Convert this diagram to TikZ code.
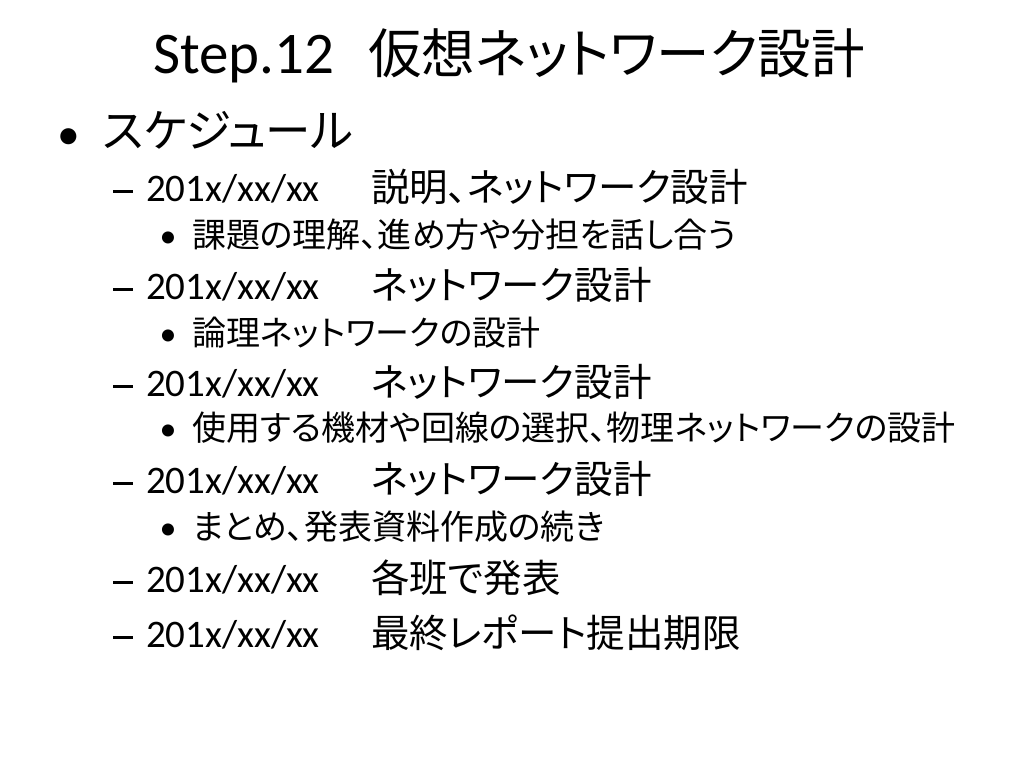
\documentclass[tikz,border=0pt]{standalone}
\usepackage{fontspec}
\setmainfont{Carlito}
\newfontfamily\jp[RawFeature=+palt]{Noto Sans CJK JP}
\begin{document}
\begin{tikzpicture}[x=1pt,y=-1pt,
  t/.style={inner sep=0pt, outer sep=0pt, anchor=base west},
  tc/.style={inner sep=0pt, outer sep=0pt, anchor=base},
  ttl/.style={t, font=\fontsize{59}{66}\selectfont},
  ttlj/.style={t, font=\fontsize{53.5}{60}\selectfont\jp},
  lone/.style={t, font=\fontsize{45.5}{52}\selectfont},
  ltwo/.style={t, font=\fontsize{39}{46}\selectfont},
  ltwoj/.style={t, font=\fontsize{38.5}{46}\selectfont\jp},
  lthree/.style={t, font=\fontsize{34}{40}\selectfont}]
\useasboundingbox[fill=white] (0,0) rectangle (1024,768);
% title
\node[ttl] (tl) at (153,73) {Step.12};
\node[ttlj] (tj) at (368,73) {仮想ネットワーク設計};
% level 1
\node[lone, tc] (b1) at (69,149) {•};
\node[lone] (s1) at (103,147) {\jp スケジュール};
% level 2 lines
\foreach \n/\b/\txt in {a/201/説明、ネットワーク設計, b/299/ネットワーク設計, c/396/ネットワーク設計, d/493/ネットワーク設計, e/592/各班で発表, f/647/最終レポート提出期限}{
  \node[t] (d\n) at (113,\b) {\rule[8.5pt]{20pt}{2.6pt}};
  \node[ltwo] (t\n) at (146,\b) {201x/xx/xx};
  \node[ltwoj] (j\n) at (371,\b) {\txt};
}
% level 3 lines
\foreach \n/\b/\txt in {a/247/課題の理解、進め方や分担を話し合う, b/345/論理ネットワークの設計, c/440/使用する機材や回線の選択、物理ネットワークの設計, d/539/まとめ、発表資料作成の続き}{
  \node[lthree, tc] (p\n) at (168,\b) {•};
  \node[lthree] (q\n) at (192,\b) {\jp \txt};
}
\end{tikzpicture}
\end{document}
